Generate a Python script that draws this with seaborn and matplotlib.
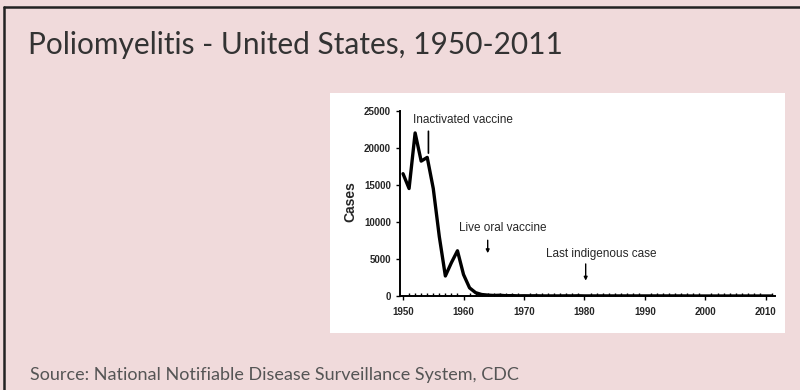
import matplotlib
matplotlib.use("Agg")
import matplotlib.pyplot as plt
import pandas as pd
import seaborn as sns
from matplotlib.lines import Line2D
from matplotlib.patches import Rectangle

years = list(range(1950, 2012))
cases = [16500, 14500, 22000, 18200, 18700, 14500, 8000, 2700, 4500, 6100,
         2900, 1100, 450, 200, 120, 70, 100, 40, 50, 20,
         30, 20, 30, 10, 10, 10, 10, 20, 10, 30,
         10, 10, 10, 15, 10, 10, 10, 10, 10, 10,
         10, 10, 10, 10, 10, 10, 10, 5, 0, 0,
         0, 0, 0, 0, 0, 0, 0, 0, 0, 0,
         0, 0]
y_ticks = [0, 5000, 10000, 15000, 20000, 25000]
x_ticks = [1950, 1960, 1970, 1980, 1990, 2000, 2010]

notes = ["Inactivated vaccine", "Live oral vaccine", "Last indigenous case"]
note_years = [1954.2, 1964.0, 1980.2]

TITLE = "Poliomyelitis - United States, 1950-2011"
SOURCE = "Source: National Notifiable Disease Surveillance System, CDC"
BG = "#f0dadb"

sns.set_theme(style="ticks")
plt.rcParams["font.family"] = ["Liberation Sans", "DejaVu Sans"]

df = pd.DataFrame({"year": years, "cases": cases})

fig = plt.figure(figsize=(8, 3.9), dpi=100, facecolor=BG)

# white picture box and frame lines
fig.patches.append(Rectangle((330 / 800, 1 - 333 / 390), 455 / 800, 240 / 390,
                             transform=fig.transFigure, facecolor="white",
                             edgecolor="none", zorder=-5))
fig.lines.append(Line2D([4 / 800, 1], [1 - 7 / 390] * 2, transform=fig.transFigure,
                        color="#222222", lw=1.8))
fig.lines.append(Line2D([4 / 800] * 2, [0, 1 - 7 / 390], transform=fig.transFigure,
                        color="#222222", lw=1.8))

ax = fig.add_axes([400 / 800, 94 / 390, 375 / 800, 189 / 390])
ax.set_facecolor("none")
ax.set_zorder(2)
sns.lineplot(data=df, x="year", y="cases", ax=ax, color="black", lw=2.4)
ax.set_xlim(1949.5, 2011.5)
ax.set_ylim(0, 25500)
ax.set_xticks(x_ticks)
ax.set_yticks(y_ticks)
ax.set_xticks(years, minor=True)
ax.tick_params(axis="both", which="major", labelsize=7, length=3, width=1, color="black")
ax.tick_params(axis="x", which="major", pad=5)
ax.tick_params(axis="x", which="minor", direction="in", length=2.5, width=1, color="black")
for lbl in ax.get_xticklabels() + ax.get_yticklabels():
    lbl.set_fontweight("bold")
ax.spines["left"].set_bounds(0, 25000)
for s in ["left", "bottom"]:
    ax.spines[s].set_linewidth(1.4)
    ax.spines[s].set_color("black")
sns.despine(ax=ax)
ax.set_xlabel("")
ax.set_ylabel("Cases", fontsize=10, fontweight="bold", labelpad=5)

# vaccine / last case notes
ax.text(1951.6, 23800, notes[0], fontsize=8.5, va="center")
ax.annotate("", xy=(note_years[0], 18900), xytext=(note_years[0], 22600),
            arrowprops=dict(arrowstyle="-", color="black", lw=1.2))
ax.text(1959.2, 9200, notes[1], fontsize=8.5, va="center")
ax.annotate("", xy=(note_years[1], 5400), xytext=(note_years[1], 7900),
            arrowprops=dict(arrowstyle="-|>", color="black", lw=1, mutation_scale=5))
ax.text(1973.7, 5600, notes[2], fontsize=8.5, va="center")
ax.annotate("", xy=(note_years[2], 1700), xytext=(note_years[2], 4700),
            arrowprops=dict(arrowstyle="-|>", color="black", lw=1, mutation_scale=5))

fig.text(28 / 800, 1 - 45 / 390, TITLE, fontsize=21.5, family=["Lato", "DejaVu Sans"],
         color="#333333", va="center", ha="left")
fig.text(30 / 800, 1 - 375 / 390, SOURCE, fontsize=13, family=["Lato", "DejaVu Sans"],
         color="#555555", va="center", ha="left")

fig.savefig("out.png", dpi=100, facecolor=BG)
